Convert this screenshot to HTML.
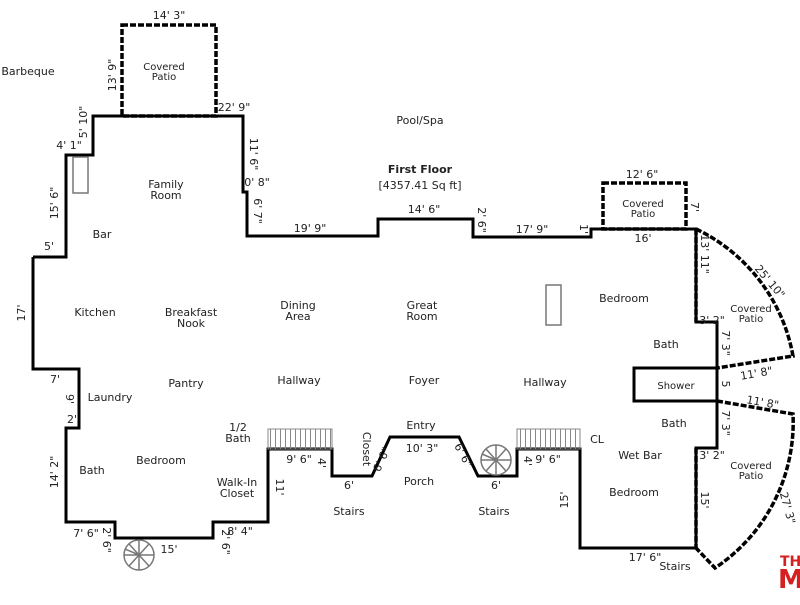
<!DOCTYPE html>
<html><head><style>
body{margin:0;background:#fff}
svg text{font-family:"DejaVu Sans","Liberation Sans",sans-serif;fill:#222}
</style></head><body>
<svg width="800" height="600" viewBox="0 0 800 600" xmlns="http://www.w3.org/2000/svg">
<defs>
<pattern id="h" width="5" height="20" patternUnits="userSpaceOnUse"><line x1="0.5" y1="0" x2="0.5" y2="20" stroke="#888" stroke-width="1"/></pattern>
</defs>
<g fill="none" stroke="#000" stroke-width="3" stroke-linejoin="miter">
<polyline points="33,257 66,257 66,155 93,155 93,116 243,116 243,192 247,192 247,236 378,236 378,219 473,219 473,237 591,237 591,229 696,229 696,322 717,322 717,368"/>
<polyline points="717,401 717,448 696,448 696,548 580,548 580,449 517,449 517,476 478,476 459,437 390,437 372,476 332,476 332,449 268,449 268,522 213,522 213,538 115,538 115,522 66,522 66,428 79,428 79,369 33,369 33,257"/>
<rect x="634" y="368" width="83" height="33"/>
</g>
<g fill="none" stroke="#000" stroke-width="3.5" stroke-dasharray="6,2">
<rect x="122" y="25" width="94" height="91"/>
<rect x="603" y="183" width="83" height="46"/>
<path d="M696,229 A175,175 0 0 1 793,356 L717,368"/>
<path d="M717,401 L793,414 A175,175 0 0 1 715,568 L696,548"/>
<line x1="696" y1="229" x2="696" y2="322"/>
<line x1="696" y1="448" x2="696" y2="548"/>
</g>
<rect x="268" y="429" width="64" height="20" fill="url(#h)" stroke="#888"/>
<rect x="517" y="429" width="63" height="20" fill="url(#h)" stroke="#888"/>
<g stroke="#777" fill="none" stroke-width="1.5">
<circle cx="139" cy="555" r="15"/><circle cx="496" cy="460" r="15"/>
<path d="M139,555 l-14,-6 M139,555 l-10,-11 M139,555 l0,-15 M139,555 l10,-11 M139,555 l15,0 M139,555 l10,11 M139,555 l0,15 M139,555 l-10,11 M139,555 l-15,0"/>
<path d="M496,460 l-14,-6 M496,460 l-10,-11 M496,460 l0,-15 M496,460 l10,-11 M496,460 l15,0 M496,460 l10,11 M496,460 l0,15 M496,460 l-10,11 M496,460 l-15,0"/>
<rect x="73" y="157" width="15" height="36"/><rect x="546" y="285" width="15" height="40"/>
</g>
<g font-size="10" text-anchor="middle">
<text x="164" y="70">Covered</text><text x="164" y="80">Patio</text>
<text x="643" y="207">Covered</text><text x="643" y="217">Patio</text>
<text x="751" y="312">Covered</text><text x="751" y="322">Patio</text>
<text x="751" y="469">Covered</text><text x="751" y="479">Patio</text>
<text x="676" y="389">Shower</text>
</g>
<g font-size="11" text-anchor="middle">
<text x="28" y="75">Barbeque</text>
<text x="420" y="124">Pool/Spa</text>
<text x="420" y="173" font-weight="bold">First Floor</text>
<text x="420" y="189">[4357.41 Sq ft]</text>
<text x="166" y="188">Family</text><text x="166" y="199">Room</text>
<text x="102" y="238">Bar</text>
<text x="95" y="316">Kitchen</text>
<text x="191" y="316">Breakfast</text><text x="191" y="327">Nook</text>
<text x="298" y="309">Dining</text><text x="298" y="320">Area</text>
<text x="422" y="309">Great</text><text x="422" y="320">Room</text>
<text x="624" y="302">Bedroom</text>
<text x="666" y="348">Bath</text>
<text x="186" y="387">Pantry</text>
<text x="299" y="384">Hallway</text>
<text x="424" y="384">Foyer</text>
<text x="545" y="386">Hallway</text>
<text x="110" y="401">Laundry</text>
<text x="238" y="431">1/2</text><text x="238" y="442">Bath</text>
<text x="674" y="427">Bath</text>
<text x="421" y="429">Entry</text>
<text x="597" y="443">CL</text>
<text x="640" y="459">Wet Bar</text>
<text x="161" y="464">Bedroom</text>
<text x="92" y="474">Bath</text>
<text x="237" y="486">Walk-In</text><text x="237" y="497">Closet</text>
<text x="419" y="485">Porch</text>
<text x="634" y="496">Bedroom</text>
<text x="349" y="515">Stairs</text>
<text x="494" y="515">Stairs</text>
<text x="675" y="570">Stairs</text>
<text x="169" y="19">14' 3"</text>
<text x="234" y="111">22' 9"</text>
<text x="69" y="149">4' 1"</text>
<text x="49" y="250">5'</text>
<text x="55" y="383">7'</text>
<text x="72" y="423">2'</text>
<text x="310" y="232">19' 9"</text>
<text x="424" y="213">14' 6"</text>
<text x="532" y="233">17' 9"</text>
<text x="642" y="178">12' 6"</text>
<text x="643" y="242">16'</text>
<text x="299" y="463">9' 6"</text>
<text x="548" y="463">9' 6"</text>
<text x="349" y="489">6'</text>
<text x="496" y="489">6'</text>
<text x="422" y="452">10' 3"</text>
<text x="86" y="537">7' 6"</text>
<text x="169" y="553">15'</text>
<text x="240" y="535">8' 4"</text>
<text x="257" y="186">0' 8"</text>
<text x="645" y="561">17' 6"</text>
<text x="712" y="324">3' 2"</text>
<text x="712" y="459">3' 2"</text>
</g>
<g font-size="11" text-anchor="middle">
<text transform="translate(116,75) rotate(-90)">13' 9"</text>
<text transform="translate(87,122) rotate(-90)">5' 10"</text>
<text transform="translate(58,203) rotate(-90)">15' 6"</text>
<text transform="translate(25,313) rotate(-90)">17'</text>
<text transform="translate(58,472) rotate(-90)">14' 2"</text>
<text transform="translate(66,399) rotate(90)">9'</text>
<text transform="translate(250,154) rotate(90)">11' 6"</text>
<text transform="translate(254,211) rotate(90)">6' 7"</text>
<text transform="translate(478,220) rotate(90)">2' 6"</text>
<text transform="translate(580,229) rotate(90)">1'</text>
<text transform="translate(691,207) rotate(90)">7'</text>
<text transform="translate(701,254) rotate(90)">13' 11"</text>
<text transform="translate(722,343) rotate(90)">7' 3"</text>
<text transform="translate(722,384) rotate(90)">5</text>
<text transform="translate(722,423) rotate(90)">7' 3"</text>
<text transform="translate(701,500) rotate(90)">15'</text>
<text transform="translate(568,500) rotate(-90)">15'</text>
<text transform="translate(276,487) rotate(90)">11'</text>
<text transform="translate(318,463) rotate(90)">4'</text>
<text transform="translate(524,461) rotate(90)">4'</text>
<text transform="translate(363,449) rotate(90)">Closet</text>
<text transform="translate(385,461) rotate(-65)">6' 6"</text>
<text transform="translate(460,457) rotate(62)">6' 6"</text>
<text transform="translate(103,540) rotate(90)">2' 6"</text>
<text transform="translate(222,542) rotate(90)">2' 6"</text>
<text transform="translate(767,284) rotate(50)">25' 10"</text>
<text transform="translate(757,377) rotate(-10)">11' 8"</text>
<text transform="translate(762,406) rotate(10)">11' 8"</text>
<text transform="translate(784,509) rotate(75)">27' 3"</text>
</g>
<text x="780" y="566" font-size="14" font-weight="bold" style="fill:#d42020">THE</text>
<text x="778" y="588" font-size="26" font-weight="bold" style="fill:#d42020">M</text>
</svg>
</body></html>
